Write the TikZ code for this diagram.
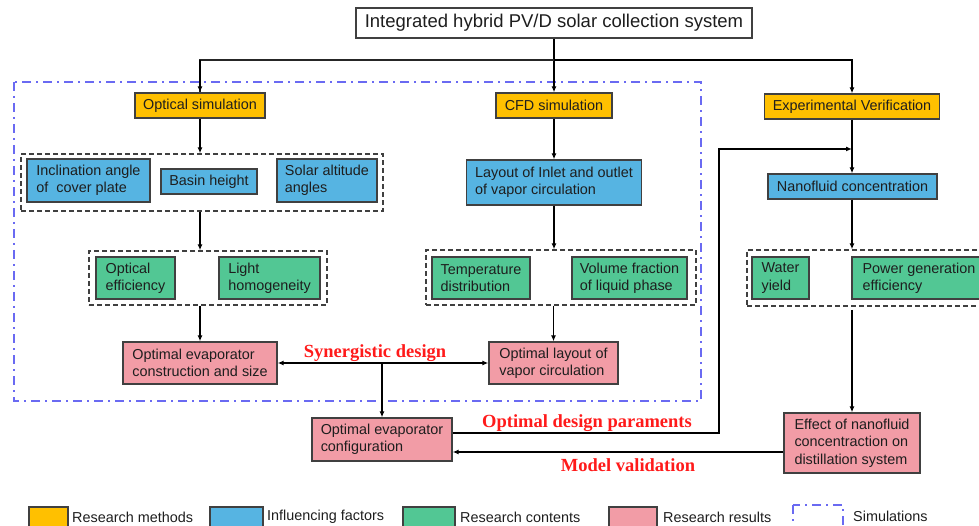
\documentclass[tikz,border=0pt]{standalone}
\usepackage{fontspec}
\setmainfont{Liberation Sans}
\newfontfamily\redserif{Liberation Serif}
\usetikzlibrary{arrows.meta}

\definecolor{methodcol}{HTML}{FFC000}
\definecolor{factorcol}{HTML}{56B4E2}
\definecolor{contentcol}{HTML}{52C794}
\definecolor{resultcol}{HTML}{F29CA6}
\definecolor{simcol}{HTML}{6A6AF2}
\definecolor{edgecol}{HTML}{404040}
\definecolor{textcol}{HTML}{1E1E1E}
\definecolor{notecol}{HTML}{FF1A1A}

\tikzset{
  box/.style={draw=edgecol, line width=1.3pt, inner sep=0pt, align=left,
    text=textcol, font=\fontsize{14.4}{17.3}\selectfont},
  method/.style={box, fill=methodcol},
  factor/.style={box, fill=factorcol},
  content/.style={box, fill=contentcol},
  result/.style={box, fill=resultcol},
  plainbox/.style={box, fill=white, font=\fontsize{18.5}{22}\selectfont},
  groupbox/.style={draw=edgecol, line width=1.4pt, dash pattern=on 5pt off 3pt, inner sep=0pt},
  simbox/.style={draw=simcol, line width=2pt, dash pattern=on 9pt off 5pt on 2pt off 5pt},
  arr/.style={draw=black, line width=1.2pt, -{Latex[length=6pt,width=5pt]}},
  arrboth/.style={draw=black, line width=1.2pt, {Latex[length=6pt,width=5pt]}-{Latex[length=6pt,width=5pt]}},
  line/.style={draw=black!85, line width=1.2pt},
  note/.style={text=notecol, font=\redserif\bfseries\fontsize{18.5}{22}\selectfont, inner sep=0pt},
  legtext/.style={anchor=west, inner sep=0pt, text=textcol, font=\fontsize{14.4}{17.3}\selectfont},
}

\begin{document}
\begin{tikzpicture}[x=1pt,y=-1pt]
\useasboundingbox (0,0) rectangle (979,526);

% simulation frame
\draw[simbox] (14,82) rectangle (701,401);

% top-level system
\node[plainbox, minimum width=396pt, minimum height=30pt] (title) at (554,23) {Integrated hybrid PV/D solar collection system};

% research methods
\node[method, minimum width=130pt, minimum height=25pt] (opt) at (200,105.5) {Optical simulation};
\node[method, minimum width=116pt, minimum height=25pt] (cfd) at (554,105.5) {CFD simulation};
\node[method, minimum width=175pt, minimum height=25pt] (exp) at (852,106.5) {Experimental Verification};

% influencing factors
\node[groupbox, minimum width=362pt, minimum height=57pt] (g1) at (202,182.5) {};
\node[factor, minimum width=123pt, minimum height=43pt] (incl) at (88.5,180.5) {Inclination angle\\of\ \ cover plate};
\node[factor, minimum width=96pt, minimum height=25pt] (basin) at (209,181.5) {Basin height};
\node[factor, minimum width=100pt, minimum height=43pt] (solar) at (327,180.5) {Solar altitude\\angles};
\node[factor, minimum width=175pt, minimum height=45pt] (layout) at (554,182.5) {Layout of Inlet and outlet\\of vapor circulation};
\node[factor, minimum width=169pt, minimum height=25pt] (nano) at (852.5,186.5) {Nanofluid concentration};

% research contents
\node[groupbox, minimum width=238pt, minimum height=54pt] (g2) at (208,278) {};
\node[content, minimum width=79pt, minimum height=42pt] (oeff) at (135.5,278) {Optical\\efficiency};
\node[content, minimum width=101pt, minimum height=42pt] (light) at (269.5,278) {Light\\homogeneity};

\node[groupbox, minimum width=270pt, minimum height=55pt] (g3) at (561,277.5) {};
\node[content, minimum width=98pt, minimum height=42pt] (temp) at (481,278) {Temperature\\distribution};
\node[content, minimum width=115pt, minimum height=42pt] (vol) at (629.5,278) {Volume fraction\\of liquid phase};

\node[groupbox, minimum width=243pt, minimum height=56pt] (g4) at (868.5,278) {};
\node[content, minimum width=57pt, minimum height=42pt] (water) at (780.5,278) {Water\\yield};
\node[content, minimum width=134pt, minimum height=42pt] (power) at (919,278) {Power generation\\efficiency};

% research results
\node[result, minimum width=154pt, minimum height=42pt] (ocs) at (200,363) {Optimal evaporator\\construction and size};
\node[result, minimum width=129pt, minimum height=42pt] (olv) at (553.5,363) {Optimal layout of\\vapor circulation};
\node[result, minimum width=140pt, minimum height=43pt] (oec) at (382,439.5) {Optimal evaporator\\configuration};
\node[result, minimum width=136pt, minimum height=60pt] (eff) at (852,443) {Effect of nanofluid\\concentraction on\\distillation system};

% connectors from the system box
\coordinate (split) at (554,60);
\draw[arr] (title.south) -- (cfd.north);
\draw[line] (split) -| (opt.north);
\draw[arr] (split -| opt.north) -- (opt.north);
\draw[arr] (split) -| (exp.north);

% optical column
\draw[arr] (opt.south) -- (opt.south |- g1.north);
\draw[arr] (opt.south |- g1.south) -- (opt.south |- g2.north);
\draw[arr] (ocs.north |- g2.south) -- (ocs.north);

% CFD column
\draw[arr] (cfd.south) -- (cfd.south |- layout.north);
\draw[arr] (layout.south) -- (layout.south |- g3.north);
\draw[arr] (olv.north |- g3.south) -- (olv.north);

% synergistic design
\draw[arrboth] (ocs.east) -- (olv.west);
\draw[arr] (oec.north |- ocs.east) -- (oec.north);

% experimental column
\coordinate (fb) at (719,149);
\draw[arr] (exp.south) -- (exp.south |- nano.north);
\draw[arr] ([yshift=6.5pt]oec.east) -| (fb) -- (fb -| exp.south);
\draw[arr] (nano.south -| exp.south) -- (exp.south |- g4.north);
\draw[arr] (exp.south |- 0,310) -- (eff.north);
\draw[arr] ([yshift=-9pt]eff.west) -- ([yshift=-9pt]eff.west -| oec.east);

% labels on connectors
\node[note] (syn) at (375,353) {Synergistic design};
\node[note] (odp) at (587,423) {Optimal design paraments};
\node[note] (mv) at (628,465) {Model validation};

% legend
\node[box, fill=methodcol, minimum width=39pt, minimum height=23pt] (l1) at (48.5,518.5) {};
\node[legtext] (l1t) at (72,517) {Research methods};
\node[box, fill=factorcol, minimum width=53pt, minimum height=23pt] (l2) at (236.5,518.5) {};
\node[legtext] (l2t) at (267,517) {Influencing factors};
\node[box, fill=contentcol, minimum width=52pt, minimum height=23pt] (l3) at (429,518.5) {};
\node[legtext] (l3t) at (460,517) {Research contents};
\node[box, fill=resultcol, minimum width=48pt, minimum height=23pt] (l4) at (633,518.5) {};
\node[legtext] (l4t) at (663,517) {Research results};
\draw[simbox] (793,505) rectangle (843,532);
\node[legtext] (l5t) at (853,516) {Simulations};
\end{tikzpicture}
\end{document}
